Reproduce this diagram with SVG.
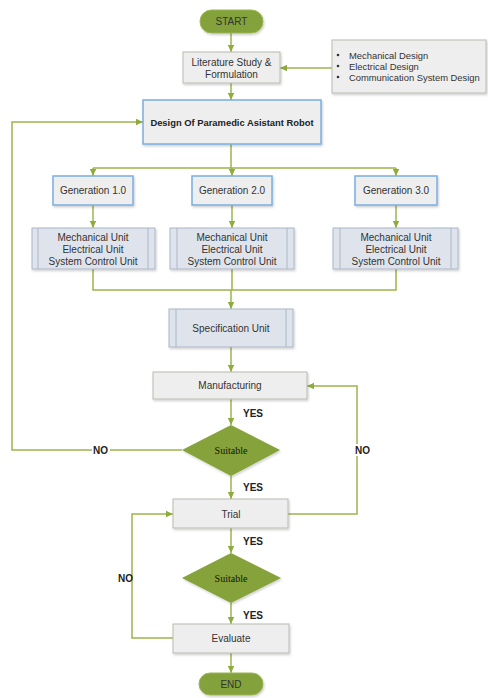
<svg xmlns="http://www.w3.org/2000/svg" width="488" height="698" viewBox="0 0 488 698">
<style>
.t{font-family:"Liberation Sans",Arial,sans-serif;font-size:10px;fill:#333;text-anchor:middle;dominant-baseline:central}
.b{font-weight:bold}
.sm{font-size:9.4px}
.s{font-family:"Liberation Serif","Times New Roman",serif;font-size:10px;fill:#111;text-anchor:middle;dominant-baseline:central}
.lbl{font-family:"Liberation Sans",Arial,sans-serif;font-size:10px;font-weight:bold;fill:#222;dominant-baseline:central}
.pill{fill:#84a23a;stroke:#9cb659;stroke-width:1}
.box{fill:#eeeeee;stroke:#b8bdb0;stroke-width:1}
.blue{fill:#eeeeee;stroke:#7aaee0;stroke-width:1.5}
.unit{fill:#dfe4ec;stroke:#aab7c8;stroke-width:1}
.dia{fill:#86a33a}
.c{fill:none;stroke:#9db44e;stroke-width:1.5}
</style>
<defs>
<marker id="ah" markerWidth="8" markerHeight="8" refX="7" refY="4" orient="auto" markerUnits="userSpaceOnUse">
<path d="M0,0.8 L7,4 L0,7.2 Z" fill="#8fab3c"/>
</marker>
<filter id="sh" x="-10%" y="-10%" width="120%" height="130%">
<feDropShadow dx="1" dy="1.5" stdDeviation="1" flood-color="#000" flood-opacity="0.2"/>
</filter>
</defs>
<rect width="488" height="698" fill="#fff"/>

<g id="connectors">
<path class="c" d="M231,33 V52" marker-end="url(#ah)"/>
<path class="c" d="M332,68 H280" marker-end="url(#ah)"/>
<path class="c" d="M231,83 V100" marker-end="url(#ah)"/>
<path class="c" d="M231,144 V168 M93,168 H396"/>
<path class="c" d="M93,168 V176" marker-end="url(#ah)"/>
<path class="c" d="M232,168 V176" marker-end="url(#ah)"/>
<path class="c" d="M396,168 V176" marker-end="url(#ah)"/>
<path class="c" d="M93,205 V228" marker-end="url(#ah)"/>
<path class="c" d="M232,205 V228" marker-end="url(#ah)"/>
<path class="c" d="M396,205 V228" marker-end="url(#ah)"/>
<path class="c" d="M93,269 V290 H396 V269 M232,269 V290"/>
<path class="c" d="M231,290 V309" marker-end="url(#ah)"/>
<path class="c" d="M231,347 V372" marker-end="url(#ah)"/>
<path class="c" d="M231,399 V425" marker-end="url(#ah)"/>
<path class="c" d="M182,450 H12 V122 H143" marker-end="url(#ah)"/>
<path class="c" d="M231,476 V499" marker-end="url(#ah)"/>
<path class="c" d="M288,514 H357 V386 H307" marker-end="url(#ah)"/>
<path class="c" d="M231,528 V553" marker-end="url(#ah)"/>
<path class="c" d="M231,603 V624" marker-end="url(#ah)"/>
<path class="c" d="M173,638 H132 V514 H173" marker-end="url(#ah)"/>
<path class="c" d="M231,653 V673" marker-end="url(#ah)"/>
<text class="lbl" x="243" y="413">YES</text>
<text class="lbl" x="243" y="487">YES</text>
<text class="lbl" x="243" y="541">YES</text>
<text class="lbl" x="243" y="615">YES</text>
<rect x="92" y="444" width="18" height="12" fill="#fff"/>
<text class="lbl" x="93" y="450">NO</text>
<rect x="354" y="444" width="18" height="12" fill="#fff"/>
<text class="lbl" x="355" y="450">NO</text>
<text class="lbl" x="118" y="578">NO</text>
</g>

<g id="start">
<rect class="pill" x="200" y="10" width="63" height="23" rx="11.5" filter="url(#sh)"/>
<text class="t" x="231.5" y="21.5">START</text>
</g>
<g id="literature">
<rect class="box" x="183" y="52" width="97" height="31" filter="url(#sh)"/>
<text class="t" x="231.5" y="62">Literature Study &amp;</text>
<text class="t" x="231.5" y="74">Formulation</text>
</g>
<g id="designs-list">
<rect class="box" x="332" y="40" width="154" height="53" filter="url(#sh)"/>
<circle cx="338" cy="55" r="1.3" fill="#333"/>
<circle cx="338" cy="66" r="1.3" fill="#333"/>
<circle cx="338" cy="77" r="1.3" fill="#333"/>
<text class="t sm" x="349" y="55" style="text-anchor:start">Mechanical Design</text>
<text class="t sm" x="349" y="66" style="text-anchor:start">Electrical Design</text>
<text class="t sm" x="349" y="77" style="text-anchor:start">Communication System Design</text>
</g>
<g id="design">
<rect class="blue" x="143" y="100" width="178" height="44" filter="url(#sh)"/>
<text class="t b sm" x="232" y="122" style="fill:#222">Design Of Paramedic Asistant Robot</text>
</g>
<g id="gen1">
<rect class="blue" x="53" y="176" width="80" height="29" filter="url(#sh)"/>
<text class="t" x="93" y="190.5">Generation 1.0</text>
</g>
<g id="gen2">
<rect class="blue" x="192" y="176" width="80" height="29" filter="url(#sh)"/>
<text class="t" x="232" y="190.5">Generation 2.0</text>
</g>
<g id="gen3">
<rect class="blue" x="355" y="176" width="82" height="29" filter="url(#sh)"/>
<text class="t" x="396" y="190.5">Generation 3.0</text>
</g>
<g id="units1">
<rect class="unit" x="32" y="228" width="123" height="41" filter="url(#sh)"/>
<path d="M38,228 V269 M148,228 V269" stroke="#aab7c8" stroke-width="1"/>
<text class="t" x="93" y="237">Mechanical Unit</text>
<text class="t" x="93" y="249">Electrical Unit</text>
<text class="t" x="93" y="261">System Control Unit</text>
</g>
<g id="units2">
<rect class="unit" x="170" y="228" width="124" height="41" filter="url(#sh)"/>
<path d="M177,228 V269 M287,228 V269" stroke="#aab7c8" stroke-width="1"/>
<text class="t" x="232" y="237">Mechanical Unit</text>
<text class="t" x="232" y="249">Electrical Unit</text>
<text class="t" x="232" y="261">System Control Unit</text>
</g>
<g id="units3">
<rect class="unit" x="333" y="228" width="125" height="41" filter="url(#sh)"/>
<path d="M340,228 V269 M451,228 V269" stroke="#aab7c8" stroke-width="1"/>
<text class="t" x="396" y="237">Mechanical Unit</text>
<text class="t" x="396" y="249">Electrical Unit</text>
<text class="t" x="396" y="261">System Control Unit</text>
</g>
<g id="spec">
<rect class="unit" x="169" y="309" width="124" height="38" filter="url(#sh)"/>
<path d="M176,309 V347 M286,309 V347" stroke="#aab7c8" stroke-width="1"/>
<text class="t" x="231" y="328">Specification Unit</text>
</g>
<g id="manufacturing">
<rect class="box" x="153" y="372" width="154" height="27" filter="url(#sh)"/>
<text class="t" x="230" y="385.5">Manufacturing</text>
</g>
<g id="suitable1">
<polygon class="dia" points="231,425 280,450 231,476 182,450" filter="url(#sh)"/>
<text class="s" x="231" y="450">Suitable</text>
</g>
<g id="trial">
<rect class="box" x="173" y="499" width="115" height="29" filter="url(#sh)"/>
<text class="t" x="231" y="514">Trial</text>
</g>
<g id="suitable2">
<polygon class="dia" points="231,553 281,578 231,603 182,578" filter="url(#sh)"/>
<text class="s" x="231" y="578">Suitable</text>
</g>
<g id="evaluate">
<rect class="box" x="173" y="624" width="116" height="29" filter="url(#sh)"/>
<text class="t" x="231" y="638.5">Evaluate</text>
</g>
<g id="end">
<rect class="pill" x="199" y="673" width="64" height="22" rx="11" filter="url(#sh)"/>
<text class="t" x="231" y="684">END</text>
</g>
</svg>
